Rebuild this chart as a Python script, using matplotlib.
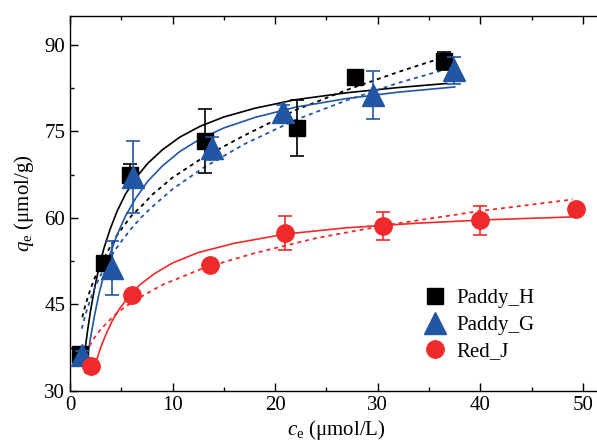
import numpy as np
import matplotlib
matplotlib.use("Agg")
import matplotlib.pyplot as plt
from matplotlib.ticker import MultipleLocator

plt.rcParams['font.family'] = ['Liberation Serif', 'DejaVu Serif']
plt.rcParams['mathtext.fontset'] = 'custom'
plt.rcParams['mathtext.rm'] = 'Liberation Serif'
plt.rcParams['mathtext.it'] = 'Liberation Serif:italic'

# measured points (ce, qe, error)
h_c = [0.97, 3.3, 5.85, 13.2, 22.1, 27.8, 36.5]
h_q = [36.4, 52.2, 67.4, 73.3, 75.6, 84.4, 87.2]
h_e = [0.8, 0.8, 2.0, 5.5, 4.9, 0.4, 1.5]

g_c = [1.2, 4.1, 6.1, 13.8, 20.8, 29.5, 37.4]
g_q = [36.2, 51.3, 67.1, 72.1, 78.4, 81.3, 85.6]
g_e = [0.8, 4.7, 6.2, 2.0, 1.2, 4.1, 2.3]

j_c = [2.05, 6.0, 13.6, 21.0, 30.5, 40.0, 49.3]
j_q = [34.3, 46.6, 51.8, 57.4, 58.6, 59.6, 61.5]
j_e = [0.8, 0.8, 0.8, 2.9, 2.4, 2.5, 1.0]

# fitted curves (solid / dotted)
h_sol_c = [1.3, 1.5, 1.7, 2.0, 2.4, 2.8, 3.3, 3.9, 4.6, 5.4, 6.4, 7.6, 9.0,
           10.7, 12.7, 15, 18, 22, 27, 32, 36.7]
h_sol_q = [34.6, 37.6, 40.3, 43.9, 47.9, 51.2, 54.7, 58.0, 61.2, 64.1, 66.9,
           69.5, 71.8, 74.0, 75.9, 77.5, 79.0, 80.5, 81.7, 82.6, 83.3]
h_dot_c = [1.2, 1.5, 2, 2.5, 3, 3.7, 4.5, 5.2, 6, 7, 8, 10, 13, 17, 22, 27,
           32, 36.7]
h_dot_q = [42.8, 44.9, 47.7, 50.0, 51.9, 54.3, 56.8, 58.5, 60.4, 62.1, 64.0,
           67.0, 70.5, 74.3, 78.7, 82.2, 85.3, 88.0]

g_sol_c = [1.5, 1.75, 2.0, 2.4, 2.8, 3.3, 3.9, 4.6, 5.4, 6.4, 7.6, 9.0, 10.7,
           12.7, 15, 18, 22, 27, 32, 37.5]
g_sol_q = [33.1, 36.3, 39.2, 43.2, 46.6, 50.2, 53.7, 57.1, 60.3, 63.4, 66.4,
           69.0, 71.5, 73.7, 75.6, 77.4, 79.2, 80.7, 81.8, 82.7]
g_dot_c = [1.15, 1.5, 2, 2.5, 3, 3.7, 4.5, 5.2, 6, 7, 8, 10, 13, 17, 22, 27,
           32, 37.3]
g_dot_q = [40.8, 43.2, 46.0, 48.2, 50.1, 52.5, 54.7, 56.4, 58.2, 60.2, 61.9,
           65.0, 68.7, 72.8, 77.0, 80.4, 83.4, 86.1]

j_sol_c = [2.3, 2.6, 3.0, 3.5, 4.1, 4.8, 5.7, 6.8, 8.2, 10, 12.5, 16, 21, 27,
           34, 41, 49.4]
j_sol_q = [33.5, 35.4, 37.6, 39.8, 42.1, 44.2, 46.3, 48.4, 50.3, 52.2, 54.0,
           55.6, 57.2, 58.3, 59.1, 59.7, 60.2]
j_dot_c = [1.9, 2.4, 3, 3.7, 4.5, 5.4, 6.5, 9, 13, 18, 24, 31, 40, 49]
j_dot_q = [37.8, 39.3, 40.7, 42.0, 43.4, 44.6, 45.9, 48.4, 51.3, 53.9, 56.5,
           58.8, 61.2, 63.2]

black = '#000000'
blue = '#2156a5'
red = '#ee2a2a'

fig = plt.figure(figsize=(5.97, 4.43), dpi=100)
ax = fig.add_axes([70/597, 52/443, 533.5/597, 375/443])

dots = (0, (2.2, 2.2))
ax.plot(h_sol_c, h_sol_q, color=black, lw=1.2)
ax.plot(h_dot_c, h_dot_q, color=black, lw=1.3, ls=dots)
ax.plot(g_sol_c, g_sol_q, color=blue, lw=1.2)
ax.plot(g_dot_c, g_dot_q, color=blue, lw=1.3, ls=dots)
ax.plot(j_sol_c, j_sol_q, color=red, lw=1.2)
ax.plot(j_dot_c, j_dot_q, color=red, lw=1.3, ls=dots)

ax.errorbar(h_c, h_q, yerr=h_e, fmt='s', color=black, ms=11.5, capsize=5,
            elinewidth=1.2, capthick=1.2, label='Paddy_H', zorder=3)
ax.errorbar(g_c, g_q, yerr=g_e, fmt='^', color=blue, ms=15.5, capsize=5,
            elinewidth=1.2, capthick=1.2, label='Paddy_G', zorder=4)
ax.errorbar(j_c, j_q, yerr=j_e, fmt='o', color=red, ms=12.5, capsize=5,
            elinewidth=1.2, capthick=1.2, label='Red_J', zorder=5)

ax.set_xlim(0, 52)
ax.set_ylim(30, 95)
ax.xaxis.set_major_locator(MultipleLocator(10))
ax.xaxis.set_minor_locator(MultipleLocator(5))
ax.yaxis.set_major_locator(MultipleLocator(15))
ax.yaxis.set_minor_locator(MultipleLocator(7.5))
ax.tick_params(which='both', direction='in', top=True, right=False,
               labelsize=15, width=1.0)
ax.tick_params(which='major', length=6)
ax.tick_params(which='minor', length=3)
for s in ax.spines.values():
    s.set_linewidth(1.0)
ax.spines['right'].set_visible(False)

ax.set_xlabel(r'$c_\mathrm{e}$ (μmol/L)', fontsize=15, labelpad=2)
ax.set_ylabel(r'$q_\mathrm{e}$ (μmol/g)', fontsize=15, labelpad=6)

handles, labels = ax.get_legend_handles_labels()
handles = [h[0] for h in handles]
ax.legend(handles, labels, loc='upper left', bbox_to_anchor=(0.645, 0.30),
          frameon=False, fontsize=15, handlelength=1.0, handletextpad=0.55,
          labelspacing=0.33, borderpad=0)

fig.savefig('out.png', dpi=100)
